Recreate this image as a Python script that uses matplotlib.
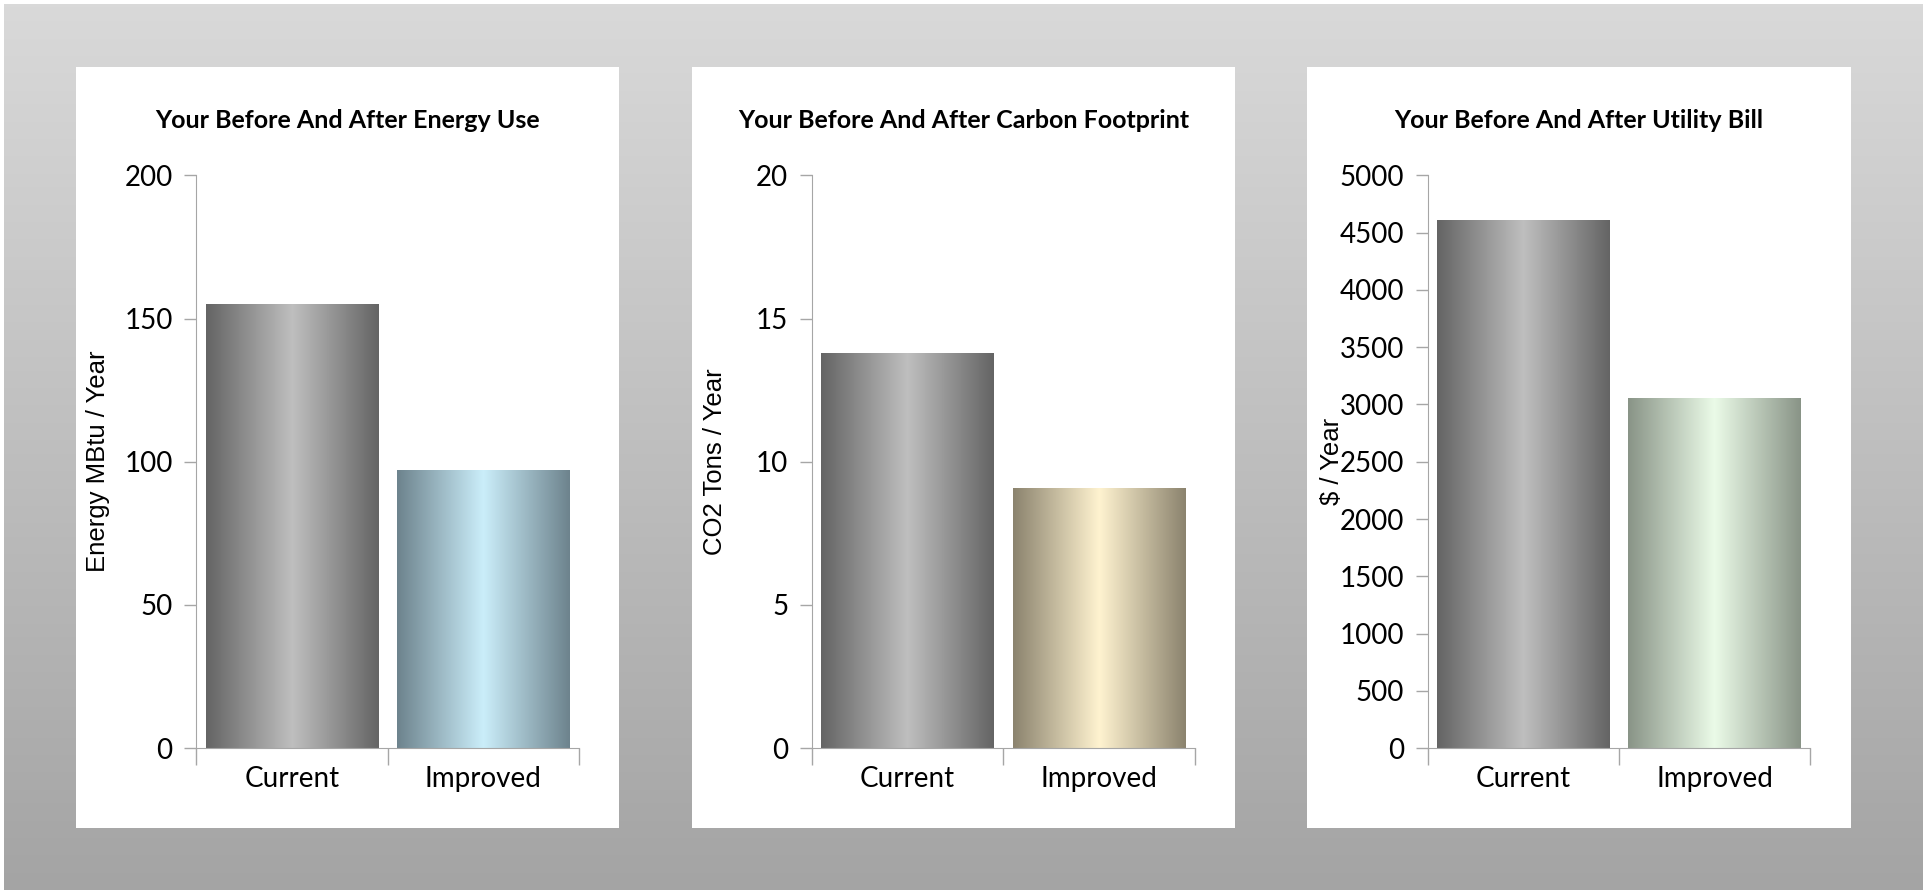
import numpy as np
import matplotlib
matplotlib.use('Agg')
import matplotlib.pyplot as plt
from matplotlib.colors import to_rgb
from matplotlib.patches import Rectangle

categories = ['Current', 'Improved']
energy = [155, 97]
carbon = [13.8, 9.1]
bill = [4610, 3060]

titles = ['Your Before And After Energy Use',
          'Your Before And After Carbon Footprint',
          'Your Before And After Utility Bill']
ylabels = ['Energy MBtu / Year', 'CO2 Tons / Year', '$ / Year']
yticks = [np.arange(0, 201, 50), np.arange(0, 21, 5), np.arange(0, 5001, 500)]

# (edge, centre) colours for the metallic gradient of each bar
current_grad = ('#646464', '#bfbfbf')
improved_grad = [('#6d838d', '#cbeefa'), ('#8b836e', '#fff3d0'), ('#899487', '#ebfbe8')]

W, H = 1923, 890
fig = plt.figure(figsize=(W / 100, H / 100), dpi=100)
fig.patch.set_facecolor('white')

# grey gradient background
bg = fig.add_axes([4 / W, 0, 1 - 4 / W, 1 - 4 / H], zorder=-10)
g = np.linspace(0, 1, 256)[:, None]
top, bot = np.array(to_rgb('#d9d9d9')), np.array(to_rgb('#a4a4a4'))
bg.imshow(top + g[..., None] * (bot - top), aspect='auto', extent=[0, 1, 0, 1])
bg.set_axis_off()

S = 1923 / 1568
panel_x = [62, 564, 1066]
axis_x = [160, 662, 1164]
label_x = [-0.225, -0.222, -0.218]


def gradient(edge, centre, n=256):
    e, c = np.array(to_rgb(edge)), np.array(to_rgb(centre))
    t = 1 - np.abs(np.linspace(-1, 1, n))
    return (e + t[:, None] * (c - e))[None, :, :]


for i, vals in enumerate([energy, carbon, bill]):
    # white card
    px = panel_x[i] * S
    fig.patches.append(Rectangle((px / W, 1 - 675 * S / H), 443 * S / W, 620 * S / H,
                                 transform=fig.transFigure, facecolor='white',
                                 edgecolor='none', zorder=-5))
    fig.text((px + 221.5 * S) / W, 1 - 98 * S / H, titles[i], ha='center', va='center',
             fontsize=18, fontweight='bold', family='Lato')

    ax = fig.add_axes([axis_x[i] * S / W, 1 - 610 * S / H, 312 * S / W, 467 * S / H])
    x = np.arange(len(categories))
    bars = ax.bar(x, vals, width=0.9, color='none', edgecolor='none')
    grads = [current_grad, improved_grad[i]]
    for b, (e, c) in zip(bars, grads):
        x0, y0 = b.get_x(), b.get_y()
        im = ax.imshow(gradient(e, c), aspect='auto',
                       extent=[x0, x0 + b.get_width(), y0, y0 + b.get_height()], zorder=2)
        im.set_clip_path(b)

    ax.set_xlim(-0.5, 1.5)
    ax.set_ylim(yticks[i][0], yticks[i][-1])
    ax.set_yticks(yticks[i])
    ax.set_xticks(x)
    ax.set_xticklabels(categories)
    ax.set_xticks([-0.5, 0.5, 1.5], minor=True)
    ax.tick_params(axis='x', which='major', length=0, pad=13, labelsize=20)
    ax.tick_params(axis='x', which='minor', length=12, color='#a6a6a6', width=1)
    ax.tick_params(axis='y', length=9, color='#a6a6a6', width=1, pad=8, labelsize=20)
    for lab in ax.get_xticklabels() + ax.get_yticklabels():
        lab.set_family('Lato')
    for side in ['top', 'right']:
        ax.spines[side].set_visible(False)
    for side in ['left', 'bottom']:
        ax.spines[side].set_color('#a6a6a6')
    ax.set_facecolor('white')
    ax.set_ylabel(ylabels[i], fontsize=18.5, family='Liberation Sans')
    ax.yaxis.set_label_coords(label_x[i], 0.5)

fig.savefig('out.png', dpi=100)
